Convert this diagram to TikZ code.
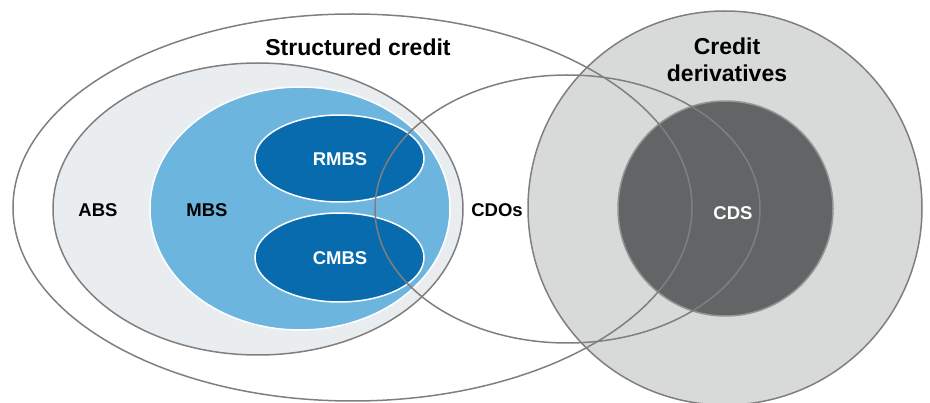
\documentclass[tikz,border=0pt]{standalone}
\usepackage{fontspec}
\setmainfont{Liberation Sans}
\definecolor{edgegray}{HTML}{7F7F7F}
\definecolor{absfill}{HTML}{E9EDF0}
\definecolor{mbsfill}{HTML}{6CB5DF}
\definecolor{rmbsfill}{HTML}{086BAD}
\definecolor{cdfill}{HTML}{D8D9D9}
\definecolor{cdsfill}{HTML}{626566}
\begin{document}
\begin{tikzpicture}[x=1pt,y=-1pt,
  outline/.style={draw=edgegray,line width=1.5pt},
  inner/.style={draw=white,line width=1.5pt},
  biglabel/.style={font=\fontsize{23}{27}\selectfont\bfseries,align=center,text=black},
  lab/.style={font=\fontsize{18.5}{22}\selectfont\bfseries,text=black},
  wlab/.style={font=\fontsize{18.5}{22}\selectfont\bfseries,text=white}]
\useasboundingbox (0,0) rectangle (930,403);
% credit derivatives
\fill[cdfill] (725,208) circle (197);
\draw[outline] (725,208) circle (197);
\fill[cdsfill] (725.5,208.5) circle (107.5);
\draw[draw=gray!85,line width=1.5pt] (725.5,208.5) circle (107.5);
% ABS
\filldraw[fill=absfill,outline] (258,209) ellipse [x radius=205,y radius=146];
% MBS
\filldraw[fill=mbsfill,inner] (300,208.5) ellipse [x radius=150,y radius=121.5];
% RMBS, CMBS
\filldraw[fill=rmbsfill,inner] (339.5,158.5) ellipse [x radius=84.5,y radius=43.5];
\filldraw[fill=rmbsfill,inner] (339.5,257.5) ellipse [x radius=84.5,y radius=44.5];
% outer structured credit and CDOs
\draw[outline] (352.5,207.5) ellipse [x radius=339.5,y radius=193.5];
\draw[outline] (567.5,209) ellipse [x radius=192.5,y radius=134];
% labels
\node[biglabel] (sc) at (358,47) {Structured credit};
\node[biglabel] (cd) at (727,60) {Credit\\derivatives};
\node[lab] (abs) at (98,210) {ABS};
\node[lab] (mbs) at (207,210) {MBS};
\node[lab] (cdo) at (497,210) {CDOs};
\node[wlab] (cds) at (733,213) {CDS};
\node[wlab] (rmbs) at (340,159) {RMBS};
\node[wlab] (cmbs) at (340,258) {CMBS};
\end{tikzpicture}
\end{document}
